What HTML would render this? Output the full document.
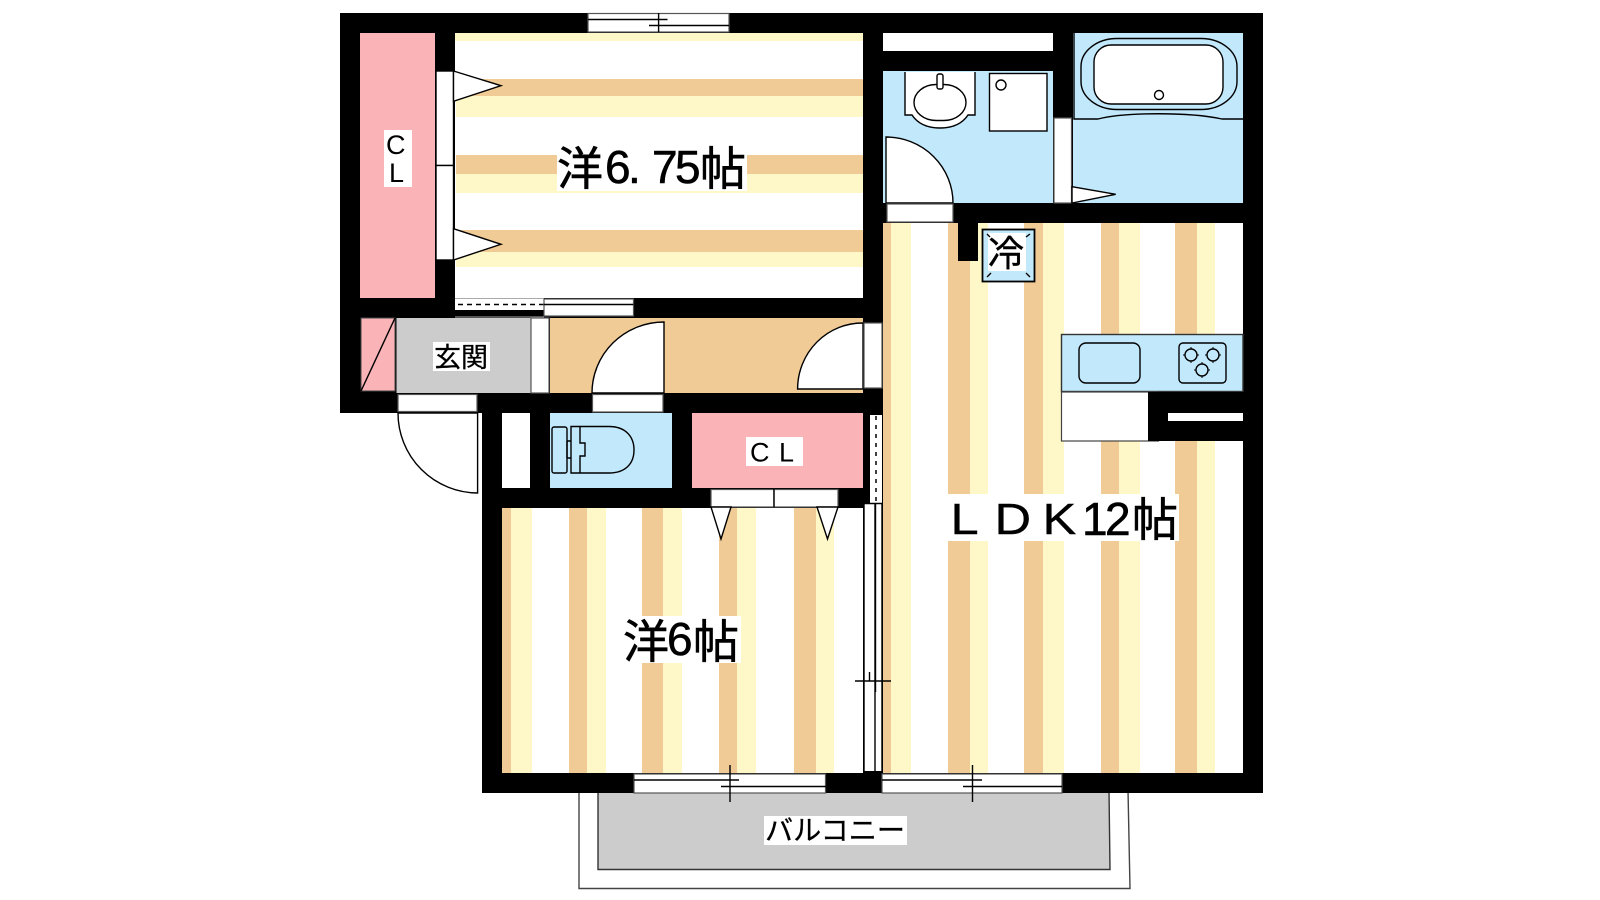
<!DOCTYPE html>
<html lang="ja"><head><meta charset="utf-8"><title>間取り図</title>
<style>
html,body{margin:0;padding:0;background:#fff}
svg{display:block}
text{font-family:"Liberation Sans","Noto Sans CJK JP",sans-serif;fill:#000}
.b{stroke:#000;stroke-width:.6}
.l{fill:#fff;stroke:#000;stroke-width:1.4}
.n{fill:none;stroke:#000;stroke-width:1.4}
.g{fill:#fff;stroke:#555;stroke-width:1.2}
.t{fill:#f0cb96}.y{fill:#fef7c7}
</style></head><body>
<svg width="1600" height="900" viewBox="0 0 1600 900" xmlns="http://www.w3.org/2000/svg">
<rect width="1600" height="900" fill="#fff"/>
<!-- balcony -->
<path d="M579 790V888.500H1130L1128 790Z" fill="#fff" stroke="#444" stroke-width="1.4"/>
<path d="M598 790V869.500H1110L1109 790Z" fill="#ccc" stroke="#333" stroke-width="1.4"/>
<!-- entrance door -->
<path d="M398 413A80 80 0 0 0 477.600 493V413Z" class="l"/>
<!-- walls -->
<path d="M340 13H1263V793H482V413H340Z" fill="#000"/>
<!-- room 6.75 -->
<rect x="455" y="33" width="408" height="265" fill="#fff"/>
<rect class="y" x="455" y="33" width="408" height="8"/>
<rect class="t" x="456" y="79" width="407" height="17"/><rect class="y" x="456" y="96" width="407" height="21"/>
<rect class="t" x="456" y="155" width="407" height="19"/><rect class="y" x="456" y="174" width="407" height="19"/>
<rect class="t" x="456" y="230" width="407" height="22"/><rect class="y" x="456" y="252" width="407" height="15"/>
<!-- CL -->
<rect x="360" y="33" width="75" height="265" fill="#fab4b7"/>
<!-- closet doors -->
<rect class="l" x="436" y="71" width="17.500" height="94.500"/><rect class="l" x="436" y="165.500" width="17.500" height="94.500"/>
<path class="l" d="M453.500 71L501 85.700L453.500 101.300Z"/><path class="l" d="M453.500 228.700L501 244.300L453.500 260Z"/>
<!-- top window -->
<rect class="g" x="588" y="13.500" width="141" height="18.500"/>
<path class="n" d="M588 19.500H667.500M649 25.500H729M658.600 13V32"/>
<!-- window below room -->
<rect x="455" y="299" width="89" height="11" fill="#fff"/>
<path d="M458 304.500H544" stroke="#000" stroke-width="1.500" stroke-dasharray="5 4"/>
<path d="M455 298.500H544M455 317H544" stroke="#aaa" stroke-width="1"/>
<rect class="g" x="544" y="299" width="89.500" height="17"/>
<path class="n" d="M544 304.500H633.500"/>
<!-- entrance -->
<rect x="361" y="318" width="34" height="73" fill="#fab4b7" stroke="#444" stroke-width="1"/>
<path class="n" d="M395 318L361 391"/>
<rect x="396.500" y="318" width="134.500" height="75" fill="#ccc"/>
<rect class="g" x="531" y="318" width="18" height="75"/>
<rect x="550" y="318" width="313" height="75" class="t"/>
<rect class="g" x="398" y="394.500" width="79" height="17"/>
<!-- hall doors -->
<path class="l" d="M664 322A72 71 0 0 0 592 393H664Z"/>
<rect class="g" x="592.500" y="394.500" width="70.500" height="17.500"/>
<path class="l" d="M863 323A65 66 0 0 0 797.600 389H863Z"/>
<rect class="g" x="864" y="323" width="18" height="65"/>
<!-- lower rooms -->
<rect x="502" y="413" width="28" height="75" fill="#fff"/>
<rect x="550" y="413" width="122" height="75" fill="#c2e8fb"/>
<rect x="692" y="413" width="171" height="75" fill="#fab4b7"/>
<!-- toilet -->
<rect class="n" x="552" y="427" width="15" height="46" rx="2"/>
<path class="n" d="M571 426.500H609C625 426.500 634 436 634 450C634 464 625 473 609 473H571ZM580 426.500V443H585V456H580V473M567 441H571M567 458H571M567 441V458"/>
<!-- room 6 -->
<rect x="502" y="508" width="361" height="265" fill="#fff"/>
<g class="t"><rect x="502" y="508" width="9" height="265"/><rect x="569" y="508" width="18" height="265"/><rect x="642" y="508" width="21" height="265"/><rect x="719" y="508" width="18" height="265"/><rect x="794" y="508" width="22" height="265"/></g>
<g class="y"><rect x="511" y="508" width="21" height="265"/><rect x="587" y="508" width="19" height="265"/><rect x="663" y="508" width="19" height="265"/><rect x="737" y="508" width="19" height="265"/><rect x="816" y="508" width="18" height="265"/></g>
<!-- CL2 doors -->
<rect x="838" y="488" width="25" height="20" fill="#000"/>
<rect class="g" x="711" y="489.500" width="63" height="17.500"/><rect class="g" x="774" y="489.500" width="64" height="17.500"/>
<path class="n" d="M774 489V507"/>
<path class="l" d="M711 507L721 539L731 507Z"/><path class="l" d="M817 507L827.500 539L838 507Z"/>
<!-- LDK -->
<rect x="883" y="223" width="360" height="550" fill="#fff"/>
<g class="t"><rect x="883" y="223" width="8" height="550"/><rect x="948" y="223" width="22" height="550"/><rect x="1024" y="223" width="19" height="550"/><rect x="1101" y="223" width="18" height="550"/><rect x="1175" y="223" width="22" height="550"/></g>
<g class="y"><rect x="891" y="223" width="20" height="550"/><rect x="970" y="223" width="18" height="550"/><rect x="1043" y="223" width="21" height="550"/><rect x="1119" y="223" width="21" height="550"/><rect x="1197" y="223" width="18" height="550"/></g>
<!-- sliding partition -->
<rect x="863" y="413" width="7" height="95" fill="#000"/>
<rect x="870" y="415" width="12" height="88" fill="#fff"/>
<path d="M876 416V503" stroke="#000" stroke-width="1.500" stroke-dasharray="4 5"/>
<rect x="864" y="504" width="18" height="267" fill="#fff"/>
<path class="n" d="M864 504V771M875 504V771M882 504V771M864 503.500H882M855 681H891M869.500 672V681M875.500 504V692"/>
<!-- bottom windows -->
<rect class="g" x="634" y="774" width="191.500" height="19"/>
<rect class="g" x="882" y="774" width="180" height="19"/>
<path class="n" d="M634 780H739M721 786.500H826M730 765V802M882 780H982M963 786.500H1062M972.500 765V802"/>
<!-- top white closet -->
<rect x="883" y="33" width="170" height="18" fill="#fff"/>
<!-- washroom -->
<rect x="883" y="71" width="170" height="132" fill="#c2e8fb"/>
<path class="n" d="M905 72V115H912C918 124 928 128 940 128C952 128 962 124 968 115H975V72" style="fill:#fff"/>
<rect class="l" x="914" y="84.500" width="52" height="36" rx="22" ry="18"/>
<rect class="l" x="937" y="74" width="6" height="15" rx="2"/>
<rect class="l" x="989.500" y="73.500" width="57.500" height="57.500"/>
<circle class="l" cx="1001" cy="85" r="5"/>
<path class="l" d="M886 137A67 66 0 0 1 953 203H886Z"/>
<rect class="g" x="887" y="204" width="66" height="18"/>
<!-- bath -->
<rect x="1073" y="33" width="170" height="170" fill="#c2e8fb"/>
<rect class="g" x="1054" y="118" width="17.500" height="85"/>
<path class="n" d="M1074 33V119H1098C1125 112 1190 112 1222 119H1243"/>
<rect class="n" x="1081" y="38.500" width="156" height="71" rx="36" ry="28"/>
<rect class="l" x="1094" y="45" width="129" height="59" rx="17" ry="17"/>
<circle class="l" cx="1159" cy="95" r="4.500"/>
<path class="l" d="M1072 186.700L1115.700 194.300L1072 203Z"/>
<!-- fridge -->
<rect x="982.500" y="229.500" width="52" height="52" fill="#c2e8fb" stroke="#000" stroke-width="1.800"/>
<rect x="988" y="233" width="38" height="38" fill="#fff"/>
<path class="n" d="M987 234L990 237M1030 234L1026 237M987 277L991 273M1030 277L1026 273"/>
<!-- kitchen -->
<rect x="1061.500" y="334.500" width="181.500" height="57" fill="#c2e8fb" stroke="#333" stroke-width="1.400"/>
<rect class="n" x="1079" y="343" width="61" height="40" rx="7"/>
<rect class="n" x="1179" y="343" width="47" height="40" rx="4"/>
<g class="n"><circle cx="1191" cy="355" r="6"/><circle cx="1213" cy="355" r="6"/><circle cx="1202" cy="370" r="6"/></g>
<path d="M1191 347V363M1183 355H1199M1213 347V363M1205 355H1221M1202 362V378M1194 370H1210" stroke="#000" stroke-width="1" stroke-dasharray="2 12"/>
<rect x="1061.500" y="392" width="97" height="49" fill="#fff" stroke="#444" stroke-width="1.200"/>
<rect x="1148" y="392" width="95" height="49" fill="#000"/>
<rect x="1168" y="413" width="75" height="8" fill="#fff"/>
<!-- small pillar -->
<rect x="958" y="223" width="20" height="38" fill="#000"/>
<!-- labels -->
<rect x="384" y="130" width="28" height="57" fill="#fff"/>
<text x="386" y="154" font-size="27">C</text><text x="389" y="182" font-size="27">L</text>
<rect x="557" y="145" width="190" height="46" fill="#fff"/>
<text class="b" font-size="46" x="557 605 628 652 675 700" y="185 183 183 183 183 185">洋6.75帖</text>
<rect x="433" y="342" width="57" height="29" fill="#fff"/>
<text class="b" x="434" y="367" font-size="27" style="stroke-width:.3">玄関</text>
<rect x="746" y="437" width="57" height="29" fill="#fff"/>
<text y="461.500" font-size="27" x="750 779">CL</text>
<text class="b" x="988" y="266" font-size="36" style="stroke-width:.4">冷</text>
<rect x="625" y="616" width="116" height="47" fill="#fff"/>
<text class="b" font-size="46" x="623 667 693" y="658 655 658">洋6帖</text>
<rect x="948" y="494" width="231" height="47" fill="#fff"/>
<text class="b" y="534" font-size="44" x="826.500 864.800 906.500" transform="scale(1.15 1)" style="stroke-width:.4">LDK</text>
<text class="b" font-size="46" x="1082 1105 1132" y="535 535 536">12帖</text>
<rect x="764" y="816" width="143" height="29" fill="#fff"/>
<text class="b" x="765" y="840" font-size="28" textLength="140" lengthAdjust="spacingAndGlyphs" style="stroke-width:.3">バルコニー</text>
</svg>
</body></html>
